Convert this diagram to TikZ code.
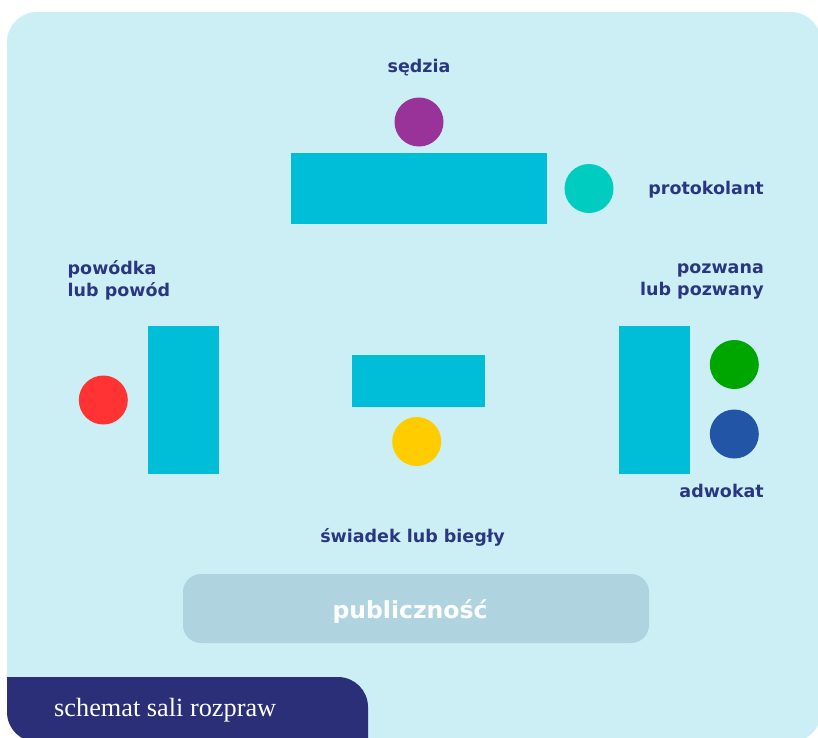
\documentclass[tikz,border=0pt]{standalone}
\usepackage{fontspec}
\setmainfont{Liberation Serif}
\newfontfamily\rolefont{DejaVu Sans}

\definecolor{room}{HTML}{CBEFF5}
\definecolor{deskblue}{HTML}{00BED8}
\definecolor{ink}{HTML}{2B3580}
\definecolor{band}{HTML}{2A2F78}
\definecolor{crowd}{HTML}{B0D4DF}
\definecolor{judge}{HTML}{993399}
\definecolor{clerk}{HTML}{00CCC0}
\definecolor{plaintiff}{HTML}{FF3333}
\definecolor{defendant}{HTML}{00A600}
\definecolor{lawyer}{HTML}{2255A5}
\definecolor{witness}{HTML}{FFCC00}

\begin{document}
\begin{tikzpicture}[x=1pt,y=-1pt,
  person/.style={circle,minimum size=49pt,inner sep=0pt},
  desk/.style={fill=deskblue,inner sep=0pt},
  role/.style={text=ink,inner sep=0pt,font=\rolefont\bfseries\fontsize{17.5}{22}\selectfont}]
  \clip (0,0) rectangle (818,737);
  \fill[room,rounded corners=30pt] (7,12) rectangle (821,742);
  \begin{scope}
    \clip[rounded corners=30pt] (7,12) rectangle (821,742);
    \fill[band] (7,760) -- (7,677) -- (338,677) arc[start angle=-90,end angle=0,radius=30] -- (368,760) -- cycle;
  \end{scope}
  % desks
  \node[desk,minimum width=256pt,minimum height=70.5pt] (bench) at (419,188.5) {};
  \node[desk,minimum width=71pt,minimum height=147.5pt] (left) at (183.5,400) {};
  \node[desk,minimum width=71pt,minimum height=147.5pt] (right) at (654.5,400) {};
  \node[desk,minimum width=133pt,minimum height=52pt] (stand) at (418.5,381) {};
  \node[fill=crowd,rounded corners=18pt,minimum width=466pt,minimum height=69pt,inner sep=0pt] (public) at (416,608.5) {};
  % people
  \node[person,fill=judge] (J) at (419,122) {};
  \node[person,fill=clerk] (C) at (589,188.5) {};
  \node[person,fill=plaintiff] (P) at (103.3,400) {};
  \node[person,fill=defendant] (D) at (734.3,364.5) {};
  \node[person,fill=lawyer] (L) at (734.3,434) {};
  \node[person,fill=witness] (W) at (416.7,441.5) {};
  % labels (two-line ones sit on their last baseline)
  \node[role,anchor=base] (Jt) at (419,72) {sędzia};
  \node[role,anchor=base east] (Ct) at (764,194) {protokolant};
  \node[role,anchor=base west,align=left] (Pt) at (67.5,296) {powódka\\lub powód};
  \node[role,anchor=base east,align=right] (Dt) at (764,295) {pozwana\\lub pozwany};
  \node[role,anchor=base east] (Lt) at (764,497) {adwokat};
  \node[role,anchor=base] (Wt) at (412.5,542) {świadek lub biegły};
  \node[role,anchor=base,text=white,font=\rolefont\bfseries\fontsize{23.5}{28}\selectfont] (publ) at (410,618) {publiczność};
  \node[anchor=base west,text=white,inner sep=0pt,font=\fontsize{26.3}{30}\selectfont] (title) at (54,716) {schemat sali rozpraw};
\end{tikzpicture}
\end{document}
